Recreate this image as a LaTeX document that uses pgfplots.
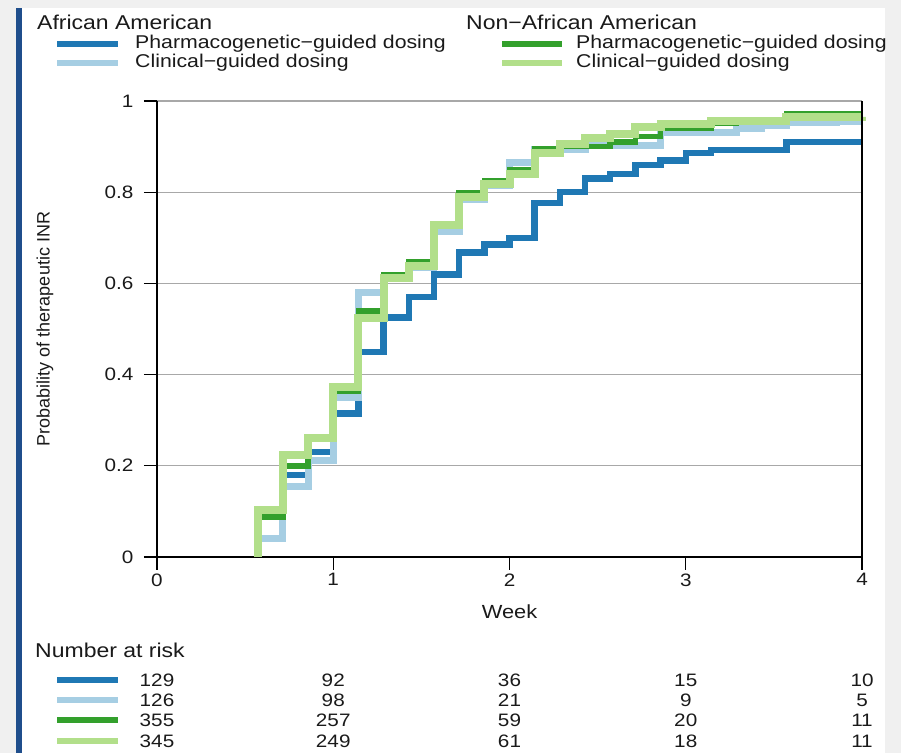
\documentclass[border=0pt]{standalone}
\usepackage{pgfplots}
\pgfplotsset{compat=1.18}
\usepackage{fontspec}
\setmainfont{Liberation Sans}[FakeStretch=1.15]
\newfontfamily\narrowfont{Liberation Sans}
\definecolor{dblue}{HTML}{1F78B4}
\definecolor{lblue}{HTML}{A6CEE3}
\definecolor{dgreen}{HTML}{33A02C}
\definecolor{lgreen}{HTML}{B2DF8A}
\definecolor{bggray}{HTML}{F0F0F0}
\definecolor{barblue}{HTML}{1F4E8C}
\definecolor{txt}{HTML}{1A1A1A}
\definecolor{gridgray}{HTML}{A8A8A8}

\pgfplotstableread{
x y
0.5714 0
0.5714 0.105
0.7143 0.18
0.8571 0.23
1.0 0.315
1.1429 0.45
1.2857 0.525
1.4286 0.57
1.5714 0.62
1.7143 0.668
1.8571 0.685
2.0 0.70
2.1429 0.776
2.2857 0.80
2.4286 0.83
2.5714 0.84
2.7143 0.86
2.8571 0.87
3.0 0.886
3.1429 0.892
3.5714 0.91
4.0 0.91
}\aapg
\pgfplotstableread{
x y
0.5714 0
0.5714 0.04
0.7143 0.154
0.8571 0.212
1.0 0.35
1.1429 0.58
1.2857 0.61
1.4286 0.635
1.5714 0.713
1.7143 0.785
1.8571 0.815
2.0 0.866
2.1429 0.893
2.4286 0.903
2.8571 0.93
3.2857 0.94
3.4286 0.947
3.5714 0.952
3.8571 0.956
4.0 0.956
}\aacl
\pgfplotstableread{
x y
0.5714 0
0.5714 0.088
0.7143 0.20
0.8571 0.258
1.0 0.364
1.1429 0.54
1.2857 0.62
1.4286 0.648
1.5714 0.73
1.7143 0.798
1.8571 0.826
2.0 0.85
2.1429 0.895
2.2857 0.90
2.5714 0.91
2.7143 0.922
2.8571 0.94
3.1429 0.951
3.2857 0.958
3.5714 0.972
4.0 0.972
}\naapg
\pgfplotstableread{
x y
0.5714 0
0.5714 0.103
0.7143 0.224
0.8571 0.26
1.0 0.373
1.1429 0.524
1.2857 0.612
1.4286 0.638
1.5714 0.728
1.7143 0.79
1.8571 0.818
2.0 0.84
2.1429 0.885
2.2857 0.906
2.4286 0.918
2.5714 0.928
2.7143 0.942
2.8571 0.949
3.1429 0.957
3.5714 0.964
4.0 0.965
}\naacl

\begin{document}
\begin{tikzpicture}[x=1pt,y=1pt,font=\fontsize{18.5}{22}\selectfont,text=txt]
\useasboundingbox (0,0) rectangle (901,753);
\fill[bggray] (0,0) rectangle (901,753);
\fill[white] (22,0) rectangle (885,745);
\fill[barblue] (16,0) rectangle (22,745);

\begin{axis}[
  at={(157pt,196pt)}, anchor=south west,
  scale only axis, width=705pt, height=456pt,
  xmin=0, xmax=4, ymin=0, ymax=1,
  clip=false,
  axis x line*=bottom, axis y line*=left,
  axis line style={black, line width=1.3pt},
  xtick={0,1,2,3,4},
  ytick={0,0.2,0.4,0.6,0.8,1},
  yticklabels={0,0.2,0.4,0.6,0.8,1},
  tick align=outside, major tick length=13pt,
  tick style={black, line width=1.3pt},
  ymajorgrids, grid style={gridgray, line width=1.3pt},
  /pgf/number format/assume math mode=true,
  tick label style={font=\fontsize{18}{21}\selectfont, text=txt},
  yticklabel style={xshift=-7pt},
  xlabel={Week},
  xlabel style={at={(axis description cs:0.5,-0.1206)}, anchor=center, font=\fontsize{19}{22}\selectfont},
  ylabel={Probability of therapeutic INR},
  ylabel style={at={(axis description cs:-0.1589,0.5)}, anchor=center, font=\narrowfont\fontsize{18}{21}\selectfont},
]
\addplot[const plot, dblue, line width=6.5pt] table {\aapg};
\addplot[const plot, lblue, line width=7pt] table {\aacl};
\addplot[const plot, dgreen, line width=5.5pt] table {\naapg};
\addplot[const plot, lgreen, line width=8pt] table {\naacl};
\draw[black, line width=1.3pt] (axis cs:4,0) -- (axis cs:4,1);
\end{axis}

% legend
\node[anchor=west, font=\fontsize{20}{23}\selectfont, inner sep=0] at (37,731) {African American};
\draw[dblue, line width=6pt] (57,709) -- (118,709);
\node[anchor=west, inner sep=0] at (135,709) {Pharmacogenetic−guided dosing};
\draw[lblue, line width=6pt] (57,690) -- (118,690);
\node[anchor=west, inner sep=0] at (135,690) {Clinical−guided dosing};
\node[anchor=west, font=\fontsize{20}{23}\selectfont, inner sep=0] at (466,731) {Non−African American};
\draw[dgreen, line width=6pt] (502,709) -- (562,709);
\node[anchor=west, inner sep=0] at (576,709) {Pharmacogenetic−guided dosing};
\draw[lgreen, line width=6pt] (502,690) -- (562,690);
\node[anchor=west, inner sep=0] at (576,690) {Clinical−guided dosing};

% number at risk
\node[anchor=west, font=\fontsize{20}{23}\selectfont, inner sep=0] at (35,103) {Number at risk};
\draw[dblue, line width=6pt] (57,73) -- (118,73);
\draw[lblue, line width=6pt] (57,53) -- (118,53);
\draw[dgreen, line width=6pt] (57,33) -- (118,33);
\draw[lgreen, line width=6pt] (57,12) -- (118,12);
\begin{scope}[every node/.style={font=\fontsize{18}{21}\selectfont, inner sep=0, anchor=center}]
\node at (157,73) {129}; \node at (333.25,73) {92}; \node at (509.5,73) {36}; \node at (685.75,73) {15}; \node at (862,73) {10};
\node at (157,53) {126}; \node at (333.25,53) {98}; \node at (509.5,53) {21}; \node at (685.75,53) {9}; \node at (862,53) {5};
\node at (157,33) {355}; \node at (333.25,33) {257}; \node at (509.5,33) {59}; \node at (685.75,33) {20}; \node at (862,33) {11};
\node at (157,12) {345}; \node at (333.25,12) {249}; \node at (509.5,12) {61}; \node at (685.75,12) {18}; \node at (862,12) {11};
\end{scope}
\end{tikzpicture}
\end{document}
